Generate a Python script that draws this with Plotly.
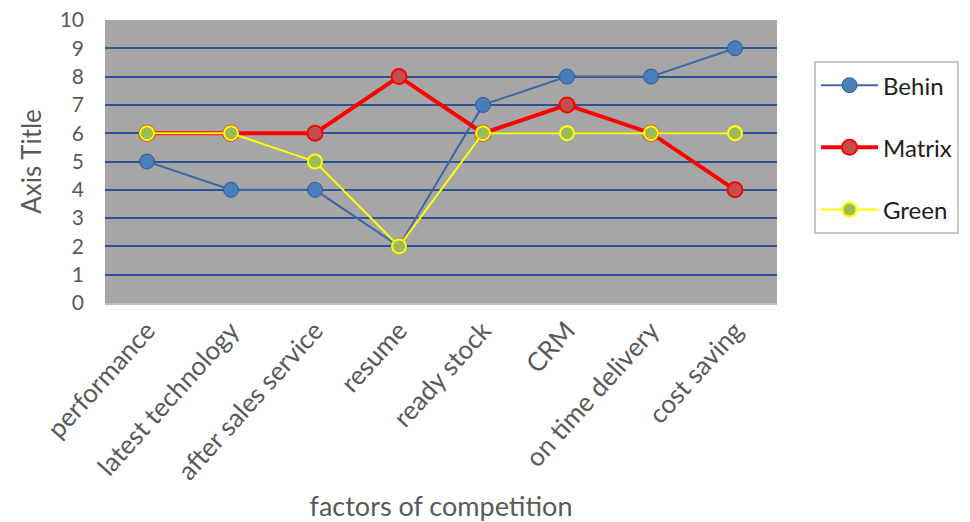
import plotly.graph_objects as go

categories = ["performance", "latest technology", "after sales service", "resume",
              "ready stock", "CRM", "on time delivery", "cost saving"]
behin = [5, 4, 4, 2, 7, 8, 8, 9]
matrix = [6, 6, 6, 8, 6, 7, 6, 4]
green = [6, 6, 5, 2, 6, 6, 6, 6]

FONT = "Lato"
fig = go.Figure()
fig.add_trace(go.Scatter(x=categories, y=behin, name="Behin", mode="lines+markers",
                         legendgroup="a",
                         line=dict(color="#3d67a6", width=2),
                         marker=dict(size=15, color="#4a7ebb", line=dict(color="#2f5b97", width=1))))
fig.add_trace(go.Scatter(x=categories, y=matrix, name="Matrix", mode="lines+markers",
                         legendgroup="b",
                         line=dict(color="#ff0000", width=4),
                         marker=dict(size=15, color="#c0504d", line=dict(color="#ff0000", width=2))))
fig.add_trace(go.Scatter(x=categories, y=green, name="Green", mode="lines+markers",
                         legendgroup="c",
                         line=dict(color="#ffff00", width=2),
                         marker=dict(size=14, color="#9bbb59", line=dict(color="#ffff00", width=2))))

fig.update_layout(
    width=970, height=522,
    margin=dict(l=105, r=192, t=20, b=219),
    paper_bgcolor="white", plot_bgcolor="#a6a6a6",
    font=dict(family=FONT, color="#595959"),
    showlegend=True,
    legend=dict(x=1.0535, xanchor="left", y=0.855, yanchor="top",
                bgcolor="white", bordercolor="#c8c8c8", borderwidth=2,
                font=dict(size=24, color="#1e1e1e", family=FONT),
                tracegroupgap=28, itemwidth=57),
)
fig.update_xaxes(range=[-0.5, 7.5], tickangle=-48, showgrid=False, zeroline=False,
                 tickfont=dict(size=26, color="#595959"), automargin=False,
                 showline=True, linecolor="#bfbfbf", linewidth=2,
                 title=dict(text="factors of competition", font=dict(size=27, color="#595959"), standoff=12))
fig.update_yaxes(range=[0, 10], dtick=1, showgrid=True, gridcolor="#2e5494", gridwidth=1.5,
                 zeroline=False, tickfont=dict(size=21, color="#595959"), ticklabelstandoff=20,
                 automargin=False,
                 title=dict(text="Axis Title", font=dict(size=26, color="#595959"), standoff=10))

fig.write_html("out.html")
